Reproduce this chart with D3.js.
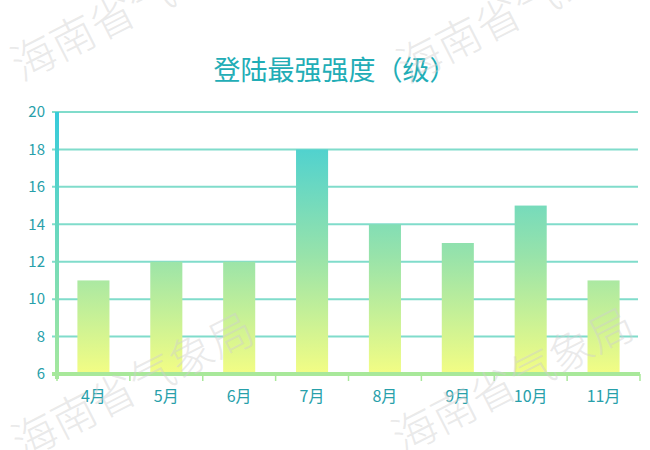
<!DOCTYPE html>
<html><head><meta charset="utf-8">
<script src="https://cdn.jsdelivr.net/npm/d3@7/dist/d3.min.js"></script>
<style>body{margin:0;background:#fff}svg{display:block}text{font-family:"Noto Sans CJK SC","Noto Sans",sans-serif}</style>
</head><body><svg id="c" width="650" height="450"></svg>
<script>
const title = "登陆最强强度（级）";
const categories = ["4月","5月","6月","7月","8月","9月","10月","11月"];
const values = [11,12,12,18,14,13,15,11];
const yTicks = [6,8,10,12,14,16,18,20];
const watermark = "海南省气象局";

const svg = d3.select("#c");
const m={l:57,t:112};
const x = d3.scaleBand().domain(categories).range([m.l,640]).paddingInner(0.56).paddingOuter(0.28);
const xb = d3.scaleBand().domain(categories).range([m.l,640]);
const y = d3.scaleLinear().domain([6,20]).range([374,112]);

const defs = svg.append("defs");
const g1 = defs.append("linearGradient").attr("id","barg").attr("gradientUnits","userSpaceOnUse")
  .attr("x1",0).attr("x2",0).attr("y1",y(20)).attr("y2",y(6));
g1.append("stop").attr("offset","0").attr("stop-color","#38ccdb");
g1.append("stop").attr("offset","0.55").attr("stop-color","#98e3aa");
g1.append("stop").attr("offset","1").attr("stop-color","#f3fd84");
const g2 = defs.append("linearGradient").attr("id","yaxg").attr("gradientUnits","userSpaceOnUse")
  .attr("x1",0).attr("x2",0).attr("y1",y(20)).attr("y2",y(6)+4);
g2.append("stop").attr("offset","0").attr("stop-color","#36cbdb");
g2.append("stop").attr("offset","1").attr("stop-color","#a6e89c");

// gridlines
svg.append("g").selectAll("line").data(yTicks.filter(d=>d>6)).join("line")
  .attr("x1",52).attr("x2",638).attr("y1",d=>y(d)).attr("y2",d=>y(d))
  .attr("stroke","#80dccb").attr("stroke-width",2);

// bars
svg.append("g").selectAll("rect").data(values).join("rect")
  .attr("x",(d,i)=>x(categories[i])).attr("width",x.bandwidth())
  .attr("y",d=>y(d)).attr("height",d=>y(6)-y(d))
  .attr("fill","url(#barg)");

// x axis
svg.append("line").attr("x1",52).attr("x2",640).attr("y1",y(6)).attr("y2",y(6))
  .attr("stroke","#a8e89a").attr("stroke-width",4);
svg.append("g").selectAll("line").data(categories.concat(["end"])).join("line")
  .attr("x1",(d,i)=>i<categories.length?xb(d):640).attr("x2",(d,i)=>i<categories.length?xb(d):640)
  .attr("y1",y(6)).attr("y2",y(6)+7).attr("stroke","#a8e89a").attr("stroke-width",1.5);
// y axis
svg.append("line").attr("x1",m.l).attr("x2",m.l).attr("y1",y(20)).attr("y2",y(6)+5)
  .attr("stroke","url(#yaxg)").attr("stroke-width",4);

// labels
svg.append("g").selectAll("text").data(yTicks).join("text")
  .attr("x",45).attr("y",d=>y(d)).attr("dy","0.35em").attr("text-anchor","end")
  .attr("font-size",15).attr("fill","#28a0aa").text(d=>d);
svg.append("g").selectAll("text").data(categories).join("text")
  .attr("x",d=>xb(d)+xb.bandwidth()/2).attr("y",402).attr("text-anchor","middle")
  .attr("font-size",16).attr("fill","#28a0aa").text(d=>d);

svg.append("text").attr("x",335).attr("y",80).attr("text-anchor","middle")
  .attr("font-size",27).attr("fill","#22adb6").text(title);

// watermarks
const wm=[[132,8],[518,10],[133,386],[513,381]];
svg.append("g").selectAll("text").data(wm).join("text")
  .attr("transform",d=>`translate(${d[0]},${d[1]}) rotate(-27)`)
  .attr("text-anchor","middle").attr("dy","0.35em")
  .attr("font-size",44).attr("font-weight",300)
  .attr("fill","#cfcfcf").attr("fill-opacity",0.45).text(watermark);
</script></body></html>
